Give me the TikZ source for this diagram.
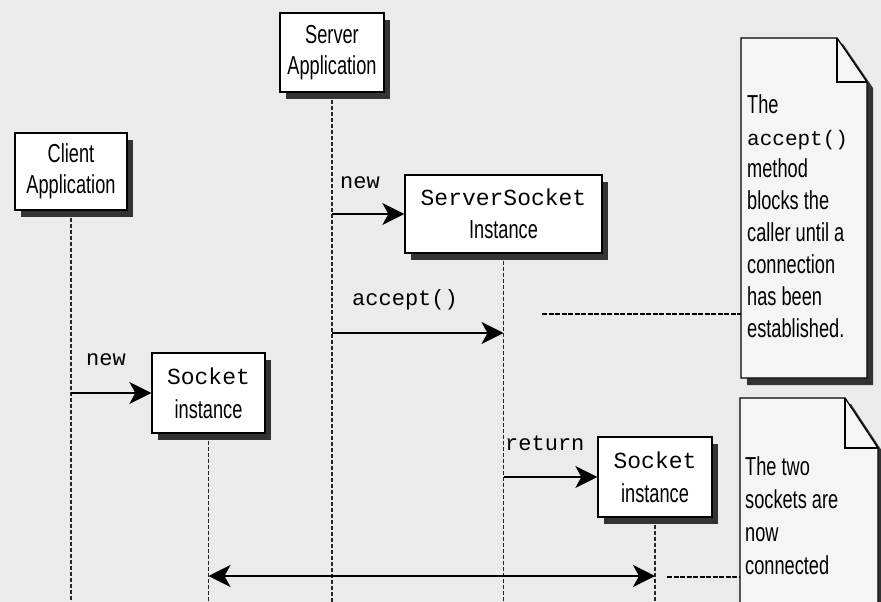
\documentclass[tikz,border=0pt]{standalone}
\usepackage{fontspec}
\setmainfont{Liberation Sans}
\newfontfamily\narrowsans[FakeStretch=0.7]{Liberation Sans}
\newfontfamily\monof{Liberation Mono}
\usetikzlibrary{arrows.meta,shadows}
\begin{document}
\begin{tikzpicture}[x=1pt,y=-1pt,
  objbox/.style={draw=black, line width=1.3pt, fill=white, align=center, inner sep=0pt,
    drop shadow={shadow xshift=6pt, shadow yshift=-7pt, fill=black!80, opacity=1}},
  boxtext/.style={font=\narrowsans\fontsize{26}{31}\selectfont},
  life/.style={draw=black!85, line width=1.2pt, dash pattern=on 4pt off 2pt},
  tip/.tip={Stealth[length=22pt,width=22pt,inset=6pt]},
  msg/.style={draw=black, line width=2pt, -tip},
  msglabel/.style={font=\monof\fontsize{22}{24}\selectfont, anchor=west, inner sep=0pt},
  notefill/.style={fill=black!4, draw=black, line width=1.3pt},
  noteshadow/.style={fill=black!80, draw=none},
  notetext/.style={font=\narrowsans\fontsize{26}{32}\selectfont, align=left, anchor=north west, inner sep=0pt},
  notelink/.style={draw=black, line width=1.2pt, dash pattern=on 5pt off 1.5pt}]
\clip (0,0) rectangle (881,602);
\fill[black!8] (0,0) rectangle (881,602);
\coordinate (bot) at (0,606);

% objects
\node[objbox, boxtext, minimum width=112pt, minimum height=77pt] (cl) at (71,171.5) {Client\\Application};
\node[objbox, boxtext, minimum width=104pt, minimum height=79pt] (srv) at (332,52.5) {Server\\Application};
\node[objbox, minimum width=197pt, minimum height=78pt, font=\fontsize{23}{33}\selectfont] (ss) at (503.5,214)
  {{\monof ServerSocket}\\{\narrowsans\fontsize{26}{33}\selectfont Instance}};
\node[objbox, minimum width=113pt, minimum height=80pt, font=\fontsize{23}{34}\selectfont] (s1) at (208.5,393)
  {{\monof Socket}\\{\narrowsans\fontsize{26}{34}\selectfont instance}};
\node[objbox, minimum width=114pt, minimum height=80pt, font=\fontsize{23}{34}\selectfont] (s2) at (655,477)
  {{\monof Socket}\\{\narrowsans\fontsize{26}{34}\selectfont instance}};

% lifelines
\draw[life] ([yshift=-7pt]cl.south) -- (cl.south |- bot);
\draw[life] ([yshift=-7pt]srv.south) -- (srv.south |- bot);
\draw[life] ([yshift=-7pt]ss.south) -- (ss.south |- bot);
\draw[life] ([yshift=-7pt]s1.south) -- (s1.south |- bot);
\draw[life] ([yshift=-7pt]s2.south) -- (s2.south |- bot);

% messages
\draw[msg] (srv.south |- ss.west) -- (ss.west);
\node[msglabel] (lnew1) at (340,183) {new};

\coordinate (acc) at (503.5,333);
\draw[msg] (srv.south |- acc) -- (acc);
\node[msglabel] (lacc) at (352,300) {accept()};

\draw[msg] (cl.south |- s1.west) -- (s1.west);
\node[msglabel] (lnew2) at (86,360) {new};

\draw[msg] (ss.south |- s2.west) -- (s2.west);
\node[msglabel] (lret) at (505,443) {return};

\coordinate (conn) at (0,576);
\draw[msg, tip-tip] (s1.south |- conn) -- (s2.south |- conn);

% note 1
\fill[noteshadow] (747,44) -- (843,44) -- (873,88) -- (873,385) -- (747,385) -- cycle;
\draw[notefill] (741,38) -- (837,38) -- (867,82) -- (867,378) -- (741,378) -- cycle;
\draw[black, line width=1.3pt] (837,38) -- (837,82) -- (867,82);
\node[notetext] (n1) at (747,94) {The\\{\monof\fontsize{21}{32}\selectfont accept()}\\method\\blocks the\\caller until a\\connection\\has been\\established.};
\coordinate (n1a) at (542,314);
\draw[notelink] (n1a) -- (741,314);

% note 2
\fill[noteshadow] (746,404) -- (851,404) -- (884,454) -- (884,616) -- (746,616) -- cycle;
\draw[notefill] (740,398) -- (845,398) -- (878,448) -- (878,610) -- (740,610) -- cycle;
\draw[black, line width=1.3pt] (845,398) -- (845,448) -- (878,448);
\node[notetext, font=\narrowsans\fontsize{26}{33}\selectfont] (n2) at (745,456) {The two\\sockets are\\now\\connected};
\coordinate (n2a) at (667,577);
\draw[notelink] (n2a) -- (740,577);
\end{tikzpicture}
\end{document}
